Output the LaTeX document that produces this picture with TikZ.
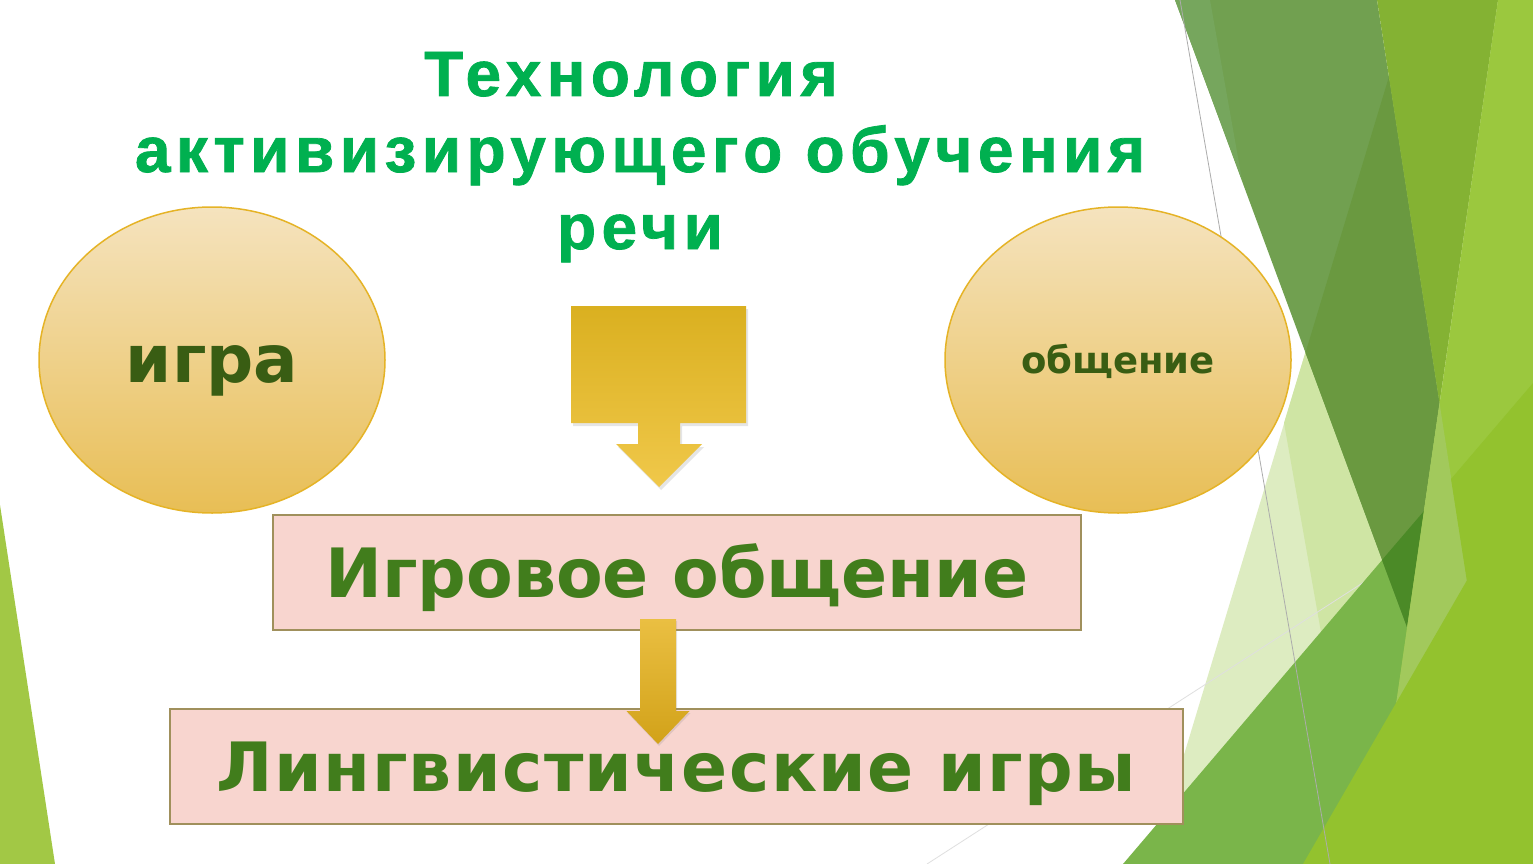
\documentclass[tikz,border=0pt]{standalone}
\usepackage{fontspec}
\setmainfont{Liberation Sans}
\newfontfamily\titlefont[LetterSpace=8.5,FakeBold=1.2]{Liberation Sans Bold}
\newfontfamily\heavyfont{DejaVu Sans}
\newfontfamily\heavywide[LetterSpace=2]{DejaVu Sans}
\usetikzlibrary{calc,positioning,shapes,shadows}

\definecolor{titlegreen}{HTML}{00B050}
\definecolor{ovaltop}{HTML}{F5E3BE}
\definecolor{ovalbot}{HTML}{E8BE55}
\definecolor{ovalline}{HTML}{E5B326}
\definecolor{ovaltext}{HTML}{395D13}
\definecolor{boxfill}{HTML}{F8D5CF}
\definecolor{boxline}{HTML}{A0905C}
\definecolor{boxtext}{HTML}{417D1C}
\definecolor{arrtop}{HTML}{DAB020}
\definecolor{arrbot}{HTML}{F0C84A}
\definecolor{arr2top}{HTML}{EABF42}
\definecolor{arr2bot}{HTML}{D2A219}

\begin{document}
\begin{tikzpicture}[x=1pt,y=-1pt,
  oval/.style={ellipse,draw=ovalline,line width=1.5pt,top color=ovaltop,bottom color=ovalbot,minimum width=346pt,minimum height=306pt,inner sep=0pt,text=ovaltext},
  pinkbox/.style={draw=boxline,line width=2pt,fill=boxfill,minimum height=115pt,inner sep=0pt,text=boxtext,font=\heavyfont\bfseries\fontsize{68}{68}\selectfont,text height=49pt,text depth=0pt},
  ttl/.style={text=titlegreen,font=\titlefont\fontsize{64}{76}\selectfont,anchor=base,inner sep=0pt},
  goldarrow/.style={top color=arrtop,bottom color=arrbot,draw=none}]
  \fill[white] (0,0) rectangle (1533,864);
  \useasboundingbox (0,0) rectangle (1533,864);

  \fill[fill={rgb,255:red,162;green,200;blue,69}] (0,505) -- (55,864) -- (0,864) -- cycle;
  \fill[fill={rgb,255:red,221;green,236;blue,193}] (1412,0) -- (1533,0) -- (1533,864) -- (1151,864) -- cycle;
  \fill[fill={rgb,255:red,207;green,229;blue,164}] (1412,0) -- (1533,0) -- (1533,864) -- (1362,864) -- (1284,423) -- cycle;
  \draw[gray!25,line width=0.8pt] (927,864) -- (1533,473);
  \fill[fill={rgb,255:red,122;green,181;blue,74}] (1533,383) -- (1533,864) -- (1123,864) -- cycle;
  \fill[fill={rgb,255:red,113;green,160;blue,80}] (1175,0) -- (1377,0) -- (1439.5,403) -- (1407,627) -- cycle;
  \fill[fill={rgb,255:red,118;green,166;blue,93}] (1175,0) -- (1210,0) -- (1242,180) -- cycle;
  \fill[fill={rgb,255:red,106;green,153;blue,64}] (1389,76.6) -- (1439.5,403) -- (1407,627) -- (1305.5,352.7) -- cycle;
  \fill[fill={rgb,255:red,75;green,138;blue,39}] (1382,560) -- (1424,511) -- (1407,627) -- cycle;
  \fill[fill={rgb,255:red,132;green,178;blue,51}] (1377,0) -- (1498,0) -- (1439.5,403) -- cycle;
  \fill[fill={rgb,255:red,155;green,200;blue,62}] (1498,0) -- (1533,0) -- (1533,864) -- (1373,864) -- cycle;
  \fill[fill={rgb,255:red,162;green,201;blue,92}] (1439.5,403) -- (1511,864) -- (1373,864) -- cycle;
  \fill[fill={rgb,255:red,147;green,194;blue,46}] (1451,479) -- (1533,383) -- (1533,864) -- (1511,864) -- cycle;
  \fill[fill={rgb,255:red,147;green,194;blue,46}] (1533,466) -- (1533,864) -- (1303,864) -- cycle;
  \draw[gray!65,line width=0.8pt] (1180,0) -- (1330,864);

  \node[ttl] (t1) at (631,96) {Технология};
  \node[ttl] (t2) at (640,172) {активизирующего обучения};
  \node[ttl] (t3) at (640,249) {речи};

  \node[oval,font=\heavyfont\bfseries\fontsize{66}{66}\selectfont,text height=44pt,text depth=0pt] (igra) at (212,360) {игра};
  \node[oval,font=\heavyfont\bfseries\fontsize{37}{37}\selectfont,text height=26pt,text depth=0pt] (obsh) at (1118,360) {общение};

  \shade[goldarrow,drop shadow={shadow xshift=2pt,shadow yshift=-3pt,opacity=0.2}] (571,306) -- (746,306) -- (746,423) -- (680,423) -- (680,444) -- (702,444) -- (659,487) -- (616,444) -- (638,444) -- (638,423) -- (571,423) -- cycle;

  \node[pinkbox,minimum width=808pt] (box1) at (677,572.5) {Игровое общение};
  \node[pinkbox,minimum width=1013pt,font=\heavywide\bfseries\fontsize{68}{68}\selectfont] (box2) at (676.5,766.5) {Лингвистические игры};

  \path (box1.south) ++(-19,-12) coordinate (s1);
  \path (box2.north) ++(-18.5,36) coordinate (tip2);
  \shade[top color=arr2top,bottom color=arr2bot,drop shadow={shadow xshift=1pt,shadow yshift=-2pt,opacity=0.2}] ($(s1)+(-18,0)$) -- ($(s1)+(18,0)$) -- ($(tip2)+(18,-33)$) -- ($(tip2)+(31.5,-33)$) -- (tip2) -- ($(tip2)+(-31.5,-33)$) -- ($(tip2)+(-18,-33)$) -- cycle;
\end{tikzpicture}
\end{document}
